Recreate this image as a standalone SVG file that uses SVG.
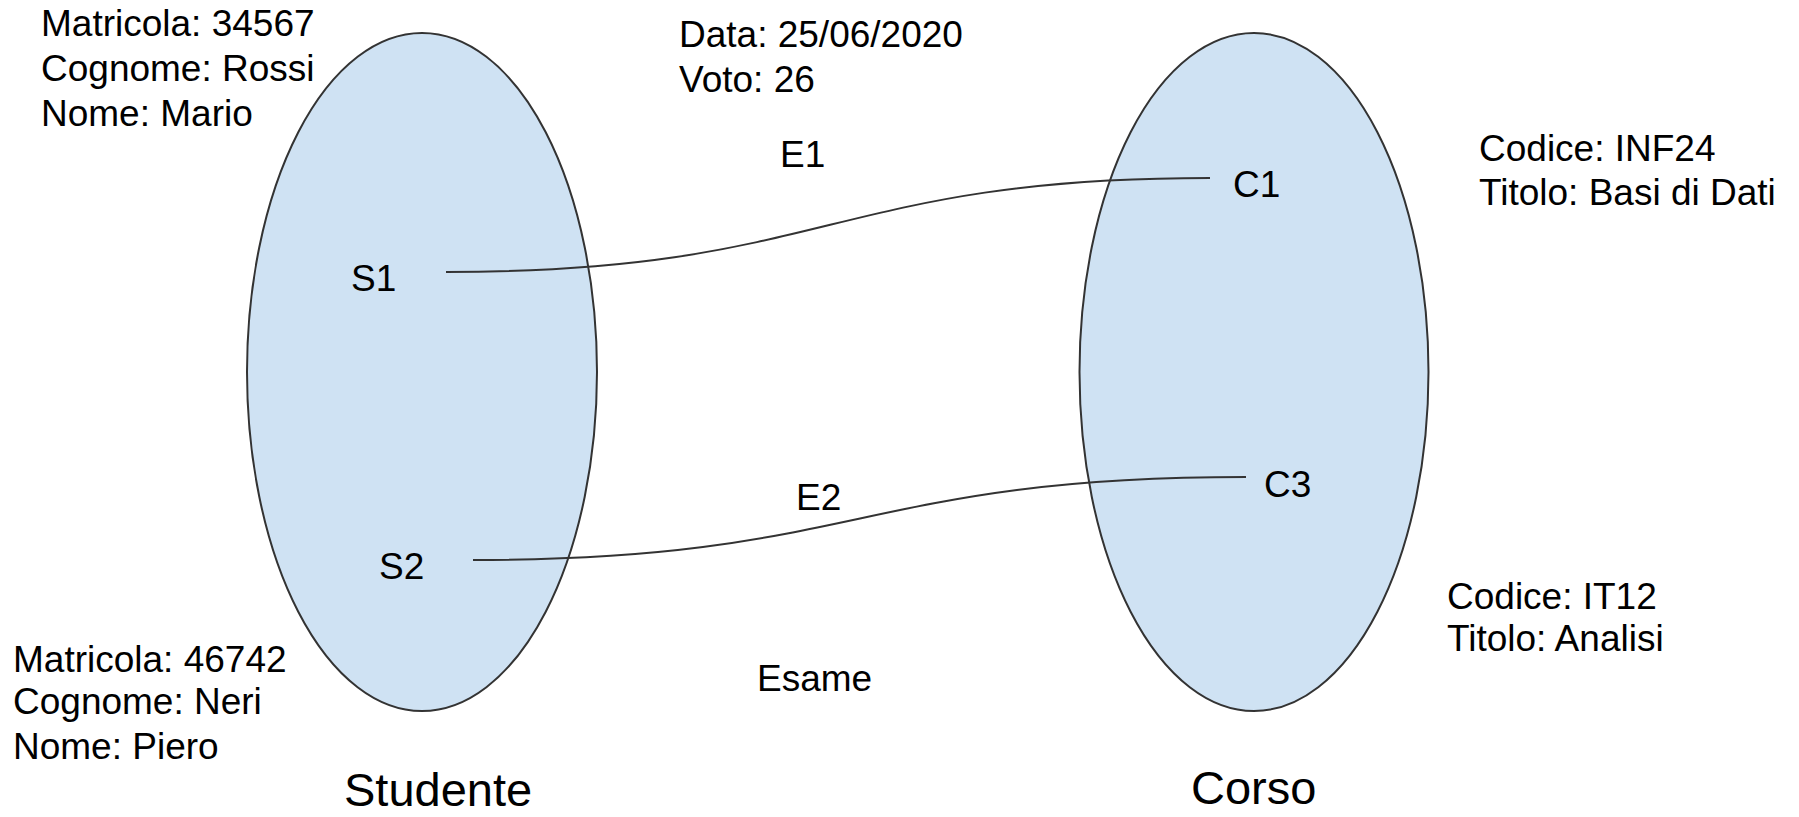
<svg xmlns="http://www.w3.org/2000/svg" width="1799" height="817" viewBox="0 0 1799 817">
<style>
.set{fill:#cfe2f3;stroke:#333;stroke-width:2}
.t{font-family:"Liberation Sans",Arial,sans-serif;font-size:37px;fill:#000}
.big{font-family:"Liberation Sans",Arial,sans-serif;font-size:47px;fill:#000}
.link{fill:none;stroke:#333;stroke-width:2}
</style>
<rect width="1799" height="817" fill="#fff"/>
<g id="studente">
<ellipse class="set" cx="422" cy="372" rx="175" ry="339"/>
<text class="big" x="344" y="806">Studente</text>
</g>
<g id="corso">
<ellipse class="set" cx="1254" cy="372" rx="174.5" ry="339"/>
<text class="big" x="1191" y="804">Corso</text>
</g>
<g id="connectors">
<path class="link" d="M446 272 C830 272 830 178 1210 178"/>
<path class="link" d="M473 560 C860 560 860 477 1246 477"/>
</g>
<g id="s1">
<text class="t" x="351" y="291">S1</text>
<text class="t" x="41" y="36">Matricola: 34567</text>
<text class="t" x="41" y="81">Cognome: Rossi</text>
<text class="t" x="41" y="126">Nome: Mario</text>
</g>
<g id="s2">
<text class="t" x="379" y="579">S2</text>
<text class="t" x="13" y="672">Matricola: 46742</text>
<text class="t" x="13" y="714">Cognome: Neri</text>
<text class="t" x="13" y="759">Nome: Piero</text>
</g>
<g id="c1">
<text class="t" x="1233" y="197">C1</text>
<text class="t" x="1479" y="161">Codice: INF24</text>
<text class="t" x="1479" y="205">Titolo: Basi di Dati</text>
</g>
<g id="c3">
<text class="t" x="1264" y="497">C3</text>
<text class="t" x="1447" y="609">Codice: IT12</text>
<text class="t" x="1447" y="651">Titolo: Analisi</text>
</g>
<g id="e1">
<text class="t" x="780" y="167">E1</text>
<text class="t" x="679" y="47">Data: 25/06/2020</text>
<text class="t" x="679" y="92">Voto: 26</text>
</g>
<g id="e2">
<text class="t" x="796" y="510">E2</text>
</g>
<g id="esame">
<text class="t" x="757" y="691">Esame</text>
</g>
</svg>
